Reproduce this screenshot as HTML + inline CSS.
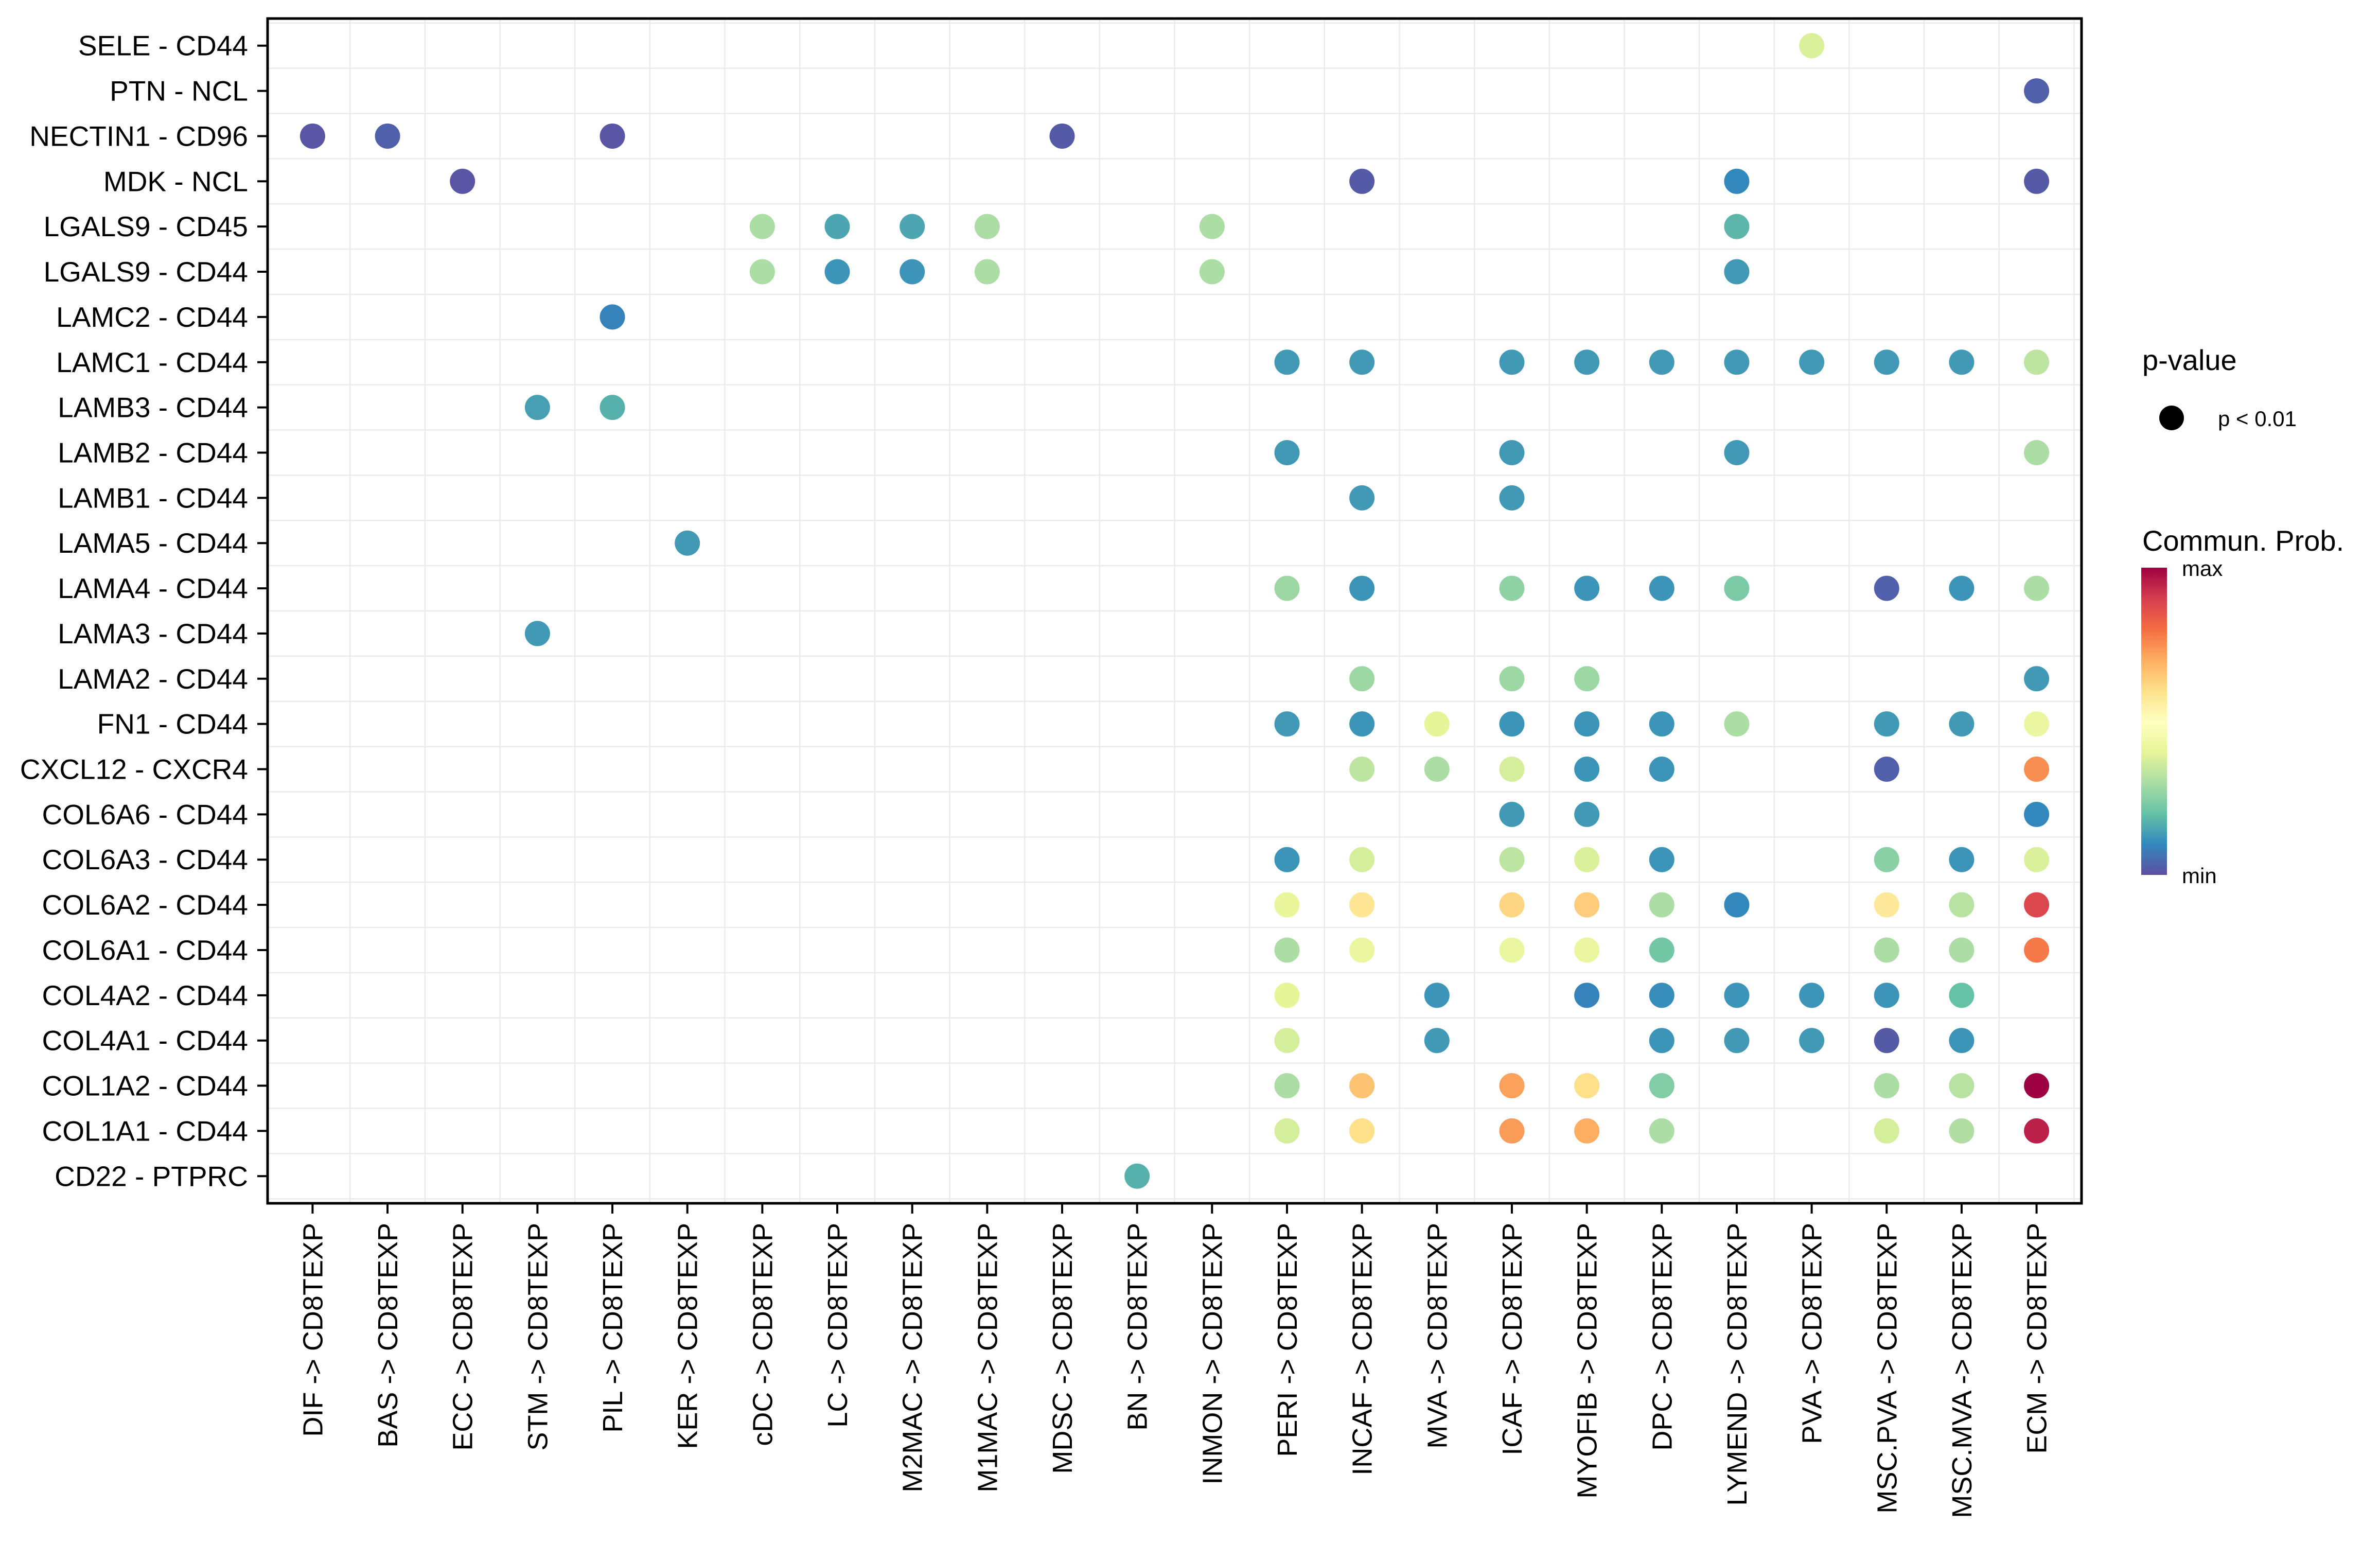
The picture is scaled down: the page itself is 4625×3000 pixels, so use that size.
<!DOCTYPE html>
<html><head><meta charset="utf-8"><style>
html,body{margin:0;padding:0;background:#fff;}
svg{display:block;font-family:"Liberation Sans",Arial,sans-serif;}
</style></head>
<body>
<svg id="chart" width="4625" height="3000" viewBox="0 0 4625 3000">
<defs>
<linearGradient id="spec" x1="0" y1="1" x2="0" y2="0">
<stop offset="0" stop-color="#5E4FA2"/><stop offset="0.1" stop-color="#3288BD"/><stop offset="0.2" stop-color="#66C2A5"/><stop offset="0.3" stop-color="#ABDDA4"/><stop offset="0.4" stop-color="#E6F598"/><stop offset="0.5" stop-color="#FFFFBF"/><stop offset="0.6" stop-color="#FEE08B"/><stop offset="0.7" stop-color="#FDAE61"/><stop offset="0.8" stop-color="#F46D43"/><stop offset="0.9" stop-color="#D53E4F"/><stop offset="1" stop-color="#9E0142"/>
</linearGradient>
</defs>
<g id="grid"></g>
<g id="dots"></g>
<rect x="520" y="36" width="3525" height="2302" fill="none" stroke="#000" stroke-width="5"/>
<g id="yaxis"></g>
<g id="xaxis"></g>
<g>
<text x="4163" y="719" font-size="56">p-value</text>
<circle cx="4220" cy="812" r="24" fill="#000"/>
<text x="4310" y="828" font-size="42">p &lt; 0.01</text>
</g>
<g>
<text x="4163" y="1070" font-size="56">Commun. Prob.</text>
<rect x="4161" y="1103" width="50" height="597" fill="url(#spec)"/>
<text x="4240" y="1119" font-size="42">max</text>
<text x="4240" y="1716" font-size="42">min</text>
</g>
</svg>
<script>
const rows = ["SELE - CD44","PTN - NCL","NECTIN1 - CD96","MDK - NCL","LGALS9 - CD45","LGALS9 - CD44","LAMC2 - CD44","LAMC1 - CD44","LAMB3 - CD44","LAMB2 - CD44","LAMB1 - CD44","LAMA5 - CD44","LAMA4 - CD44","LAMA3 - CD44","LAMA2 - CD44","FN1 - CD44","CXCL12 - CXCR4","COL6A6 - CD44","COL6A3 - CD44","COL6A2 - CD44","COL6A1 - CD44","COL4A2 - CD44","COL4A1 - CD44","COL1A2 - CD44","COL1A1 - CD44","CD22 - PTPRC"];
const cols = ["DIF","BAS","ECC","STM","PIL","KER","cDC","LC","M2MAC","M1MAC","MDSC","BN","INMON","PERI","INCAF","MVA","ICAF","MYOFIB","DPC","LYMEND","PVA","MSC.PVA","MSC.MVA","ECM"];
const ptRow = [
"SELE - CD44","PTN - NCL",
"NECTIN1 - CD96","NECTIN1 - CD96","NECTIN1 - CD96","NECTIN1 - CD96",
"MDK - NCL","MDK - NCL","MDK - NCL","MDK - NCL",
"LGALS9 - CD45","LGALS9 - CD45","LGALS9 - CD45","LGALS9 - CD45","LGALS9 - CD45","LGALS9 - CD45",
"LGALS9 - CD44","LGALS9 - CD44","LGALS9 - CD44","LGALS9 - CD44","LGALS9 - CD44","LGALS9 - CD44",
"LAMC2 - CD44",
"LAMC1 - CD44","LAMC1 - CD44","LAMC1 - CD44","LAMC1 - CD44","LAMC1 - CD44","LAMC1 - CD44","LAMC1 - CD44","LAMC1 - CD44","LAMC1 - CD44","LAMC1 - CD44",
"LAMB3 - CD44","LAMB3 - CD44",
"LAMB2 - CD44","LAMB2 - CD44","LAMB2 - CD44","LAMB2 - CD44",
"LAMB1 - CD44","LAMB1 - CD44",
"LAMA5 - CD44",
"LAMA4 - CD44","LAMA4 - CD44","LAMA4 - CD44","LAMA4 - CD44","LAMA4 - CD44","LAMA4 - CD44","LAMA4 - CD44","LAMA4 - CD44","LAMA4 - CD44",
"LAMA3 - CD44",
"LAMA2 - CD44","LAMA2 - CD44","LAMA2 - CD44","LAMA2 - CD44",
"FN1 - CD44","FN1 - CD44","FN1 - CD44","FN1 - CD44","FN1 - CD44","FN1 - CD44","FN1 - CD44","FN1 - CD44","FN1 - CD44","FN1 - CD44",
"CXCL12 - CXCR4","CXCL12 - CXCR4","CXCL12 - CXCR4","CXCL12 - CXCR4","CXCL12 - CXCR4","CXCL12 - CXCR4","CXCL12 - CXCR4",
"COL6A6 - CD44","COL6A6 - CD44","COL6A6 - CD44",
"COL6A3 - CD44","COL6A3 - CD44","COL6A3 - CD44","COL6A3 - CD44","COL6A3 - CD44","COL6A3 - CD44","COL6A3 - CD44","COL6A3 - CD44",
"COL6A2 - CD44","COL6A2 - CD44","COL6A2 - CD44","COL6A2 - CD44","COL6A2 - CD44","COL6A2 - CD44","COL6A2 - CD44","COL6A2 - CD44","COL6A2 - CD44",
"COL6A1 - CD44","COL6A1 - CD44","COL6A1 - CD44","COL6A1 - CD44","COL6A1 - CD44","COL6A1 - CD44","COL6A1 - CD44","COL6A1 - CD44",
"COL4A2 - CD44","COL4A2 - CD44","COL4A2 - CD44","COL4A2 - CD44","COL4A2 - CD44","COL4A2 - CD44","COL4A2 - CD44","COL4A2 - CD44",
"COL4A1 - CD44","COL4A1 - CD44","COL4A1 - CD44","COL4A1 - CD44","COL4A1 - CD44","COL4A1 - CD44","COL4A1 - CD44",
"COL1A2 - CD44","COL1A2 - CD44","COL1A2 - CD44","COL1A2 - CD44","COL1A2 - CD44","COL1A2 - CD44","COL1A2 - CD44","COL1A2 - CD44",
"COL1A1 - CD44","COL1A1 - CD44","COL1A1 - CD44","COL1A1 - CD44","COL1A1 - CD44","COL1A1 - CD44","COL1A1 - CD44","COL1A1 - CD44",
"CD22 - PTPRC"];
const ptCol = [
"PVA","ECM",
"DIF","BAS","PIL","MDSC",
"ECC","INCAF","LYMEND","ECM",
"cDC","LC","M2MAC","M1MAC","INMON","LYMEND",
"cDC","LC","M2MAC","M1MAC","INMON","LYMEND",
"PIL",
"PERI","INCAF","ICAF","MYOFIB","DPC","LYMEND","PVA","MSC.PVA","MSC.MVA","ECM",
"STM","PIL",
"PERI","ICAF","LYMEND","ECM",
"INCAF","ICAF",
"KER",
"PERI","INCAF","ICAF","MYOFIB","DPC","LYMEND","MSC.PVA","MSC.MVA","ECM",
"STM",
"INCAF","ICAF","MYOFIB","ECM",
"PERI","INCAF","MVA","ICAF","MYOFIB","DPC","LYMEND","MSC.PVA","MSC.MVA","ECM",
"INCAF","MVA","ICAF","MYOFIB","DPC","MSC.PVA","ECM",
"ICAF","MYOFIB","ECM",
"PERI","INCAF","ICAF","MYOFIB","DPC","MSC.PVA","MSC.MVA","ECM",
"PERI","INCAF","ICAF","MYOFIB","DPC","LYMEND","MSC.PVA","MSC.MVA","ECM",
"PERI","INCAF","ICAF","MYOFIB","DPC","MSC.PVA","MSC.MVA","ECM",
"PERI","MVA","MYOFIB","DPC","LYMEND","PVA","MSC.PVA","MSC.MVA",
"PERI","MVA","DPC","LYMEND","PVA","MSC.PVA","MSC.MVA",
"PERI","INCAF","ICAF","MYOFIB","DPC","MSC.PVA","MSC.MVA","ECM",
"PERI","INCAF","ICAF","MYOFIB","DPC","MSC.PVA","MSC.MVA","ECM",
"BN"];
const ptVal = [
0.38,0.03,
0.01,0.03,0.01,0.02,
0.01,0.02,0.10,0.02,
0.30,0.15,0.15,0.30,0.30,0.18,
0.30,0.12,0.12,0.30,0.30,0.13,
0.09,
0.13,0.13,0.13,0.13,0.13,0.13,0.13,0.13,0.13,0.33,
0.14,0.17,
0.13,0.13,0.13,0.30,
0.13,0.13,
0.13,
0.28,0.12,0.26,0.12,0.12,0.23,0.03,0.12,0.30,
0.13,
0.28,0.28,0.28,0.13,
0.13,0.12,0.40,0.12,0.12,0.12,0.30,0.13,0.13,0.42,
0.33,0.30,0.37,0.12,0.12,0.03,0.75,
0.13,0.13,0.10,
0.12,0.37,0.33,0.38,0.12,0.25,0.12,0.38,
0.41,0.58,0.62,0.64,0.30,0.10,0.57,0.32,0.88,
0.30,0.42,0.42,0.42,0.22,0.30,0.30,0.78,
0.40,0.12,0.09,0.11,0.12,0.12,0.12,0.20,
0.37,0.13,0.12,0.13,0.13,0.02,0.12,
0.30,0.66,0.72,0.60,0.24,0.30,0.32,1.00,
0.37,0.60,0.73,0.70,0.30,0.37,0.31,0.95,
0.17];

const NS="http://www.w3.org/2000/svg";
const panelL=520, panelR=4045, panelT=36, panelB=2338;
const xStep=(panelR-panelL)/(cols.length-1+1.2);
const yStep=(panelB-panelT)/(rows.length-1+1.2);
function xPos(c){return panelL+(0.6+cols.indexOf(c))*xStep;}
function yPos(r){return panelT+(0.6+rows.indexOf(r))*yStep;}
const stops=["#5E4FA2","#3288BD","#66C2A5","#ABDDA4","#E6F598","#FFFFBF","#FEE08B","#FDAE61","#F46D43","#D53E4F","#9E0142"];
function hex(h){return [1,3,5].map(i=>parseInt(h.substr(i,2),16));}
function color(v){v=Math.max(0,Math.min(1,v));const t=v*10;const i=Math.min(9,Math.floor(t));const f=t-i;const a=hex(stops[i]),b=hex(stops[i+1]);return "rgb("+a.map((x,k)=>Math.round(x+(b[k]-x)*f)).join(",")+")";}
function mk(tag,attrs,parent){const e=document.createElementNS(NS,tag);for(const k in attrs)e.setAttribute(k,attrs[k]);parent.appendChild(e);return e;}

const grid=document.getElementById('grid');
const dots=document.getElementById('dots');
const yaxis=document.getElementById('yaxis');
const xaxis=document.getElementById('xaxis');

rows.forEach(r=>{
  const y=yPos(r);
  const g=mk('line',{x1:panelL,x2:panelR,y1:y-yStep/2,y2:y-yStep/2,stroke:'#ebebeb','stroke-width':2.5},grid);
  
  
  const t=mk('line',{x1:panelL-20,x2:panelL,y1:y,y2:y,stroke:'#000','stroke-width':4},yaxis);
  
  
  const lb=mk('text',{x:482,y:y+19,'font-size':55,'text-anchor':'end',fill:'#000'},yaxis);
  lb.textContent=r;
  
  
});
mk('line',{x1:panelL,x2:panelR,y1:yPos(rows[rows.length-1])+yStep/2,y2:yPos(rows[rows.length-1])+yStep/2,stroke:'#ebebeb','stroke-width':2.5},grid);
cols.forEach(c=>{
  const x=xPos(c);
  const g=mk('line',{x1:x+xStep/2,x2:x+xStep/2,y1:panelT,y2:panelB,stroke:'#ebebeb','stroke-width':2.5},grid);
  
  
  const t=mk('line',{x1:x,x2:x,y1:panelB,y2:panelB+20,stroke:'#000','stroke-width':4},xaxis);
  
  
  const lb=mk('text',{transform:'translate('+(x+19)+',2376) rotate(-90)','font-size':54,'text-anchor':'end',fill:'#000'},xaxis);
  lb.textContent=c+' -> CD8TEXP';
  
  
});
ptVal.forEach((v,i)=>{
  const d=mk('circle',{cx:xPos(ptCol[i]),cy:yPos(ptRow[i]),r:24.5,fill:color(v)},dots);
  
  
});
</script>
</body></html>
